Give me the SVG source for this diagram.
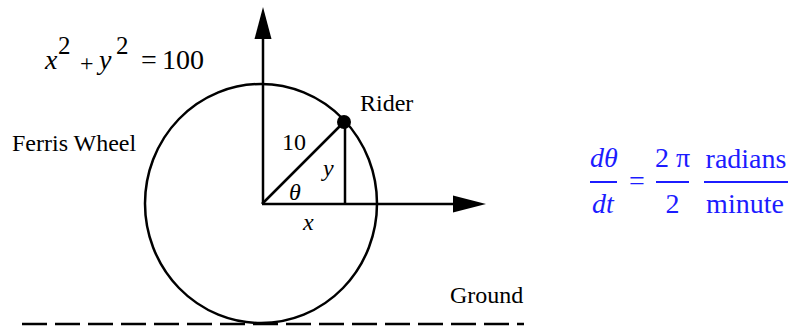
<svg xmlns="http://www.w3.org/2000/svg" width="791" height="328" viewBox="0 0 791 328">
<style>
  .t { font-family: "Liberation Serif", "Times New Roman", serif; font-size: 24px; fill: #000; }
  .i { font-style: italic; }
  .b { fill: #1c1cff; font-size: 28px; }
  .f { font-size: 28px; }
  .ln { stroke: #000; stroke-width: 2.5; fill: none; }
  .fr { stroke: #1c1cff; stroke-width: 2; }
</style>
<rect width="791" height="328" fill="#fff"/>
<g id="ground">
  <line x1="22" y1="324" x2="524" y2="324" stroke="#000" stroke-width="2.5" stroke-dasharray="25 8"/>
  <text class="t" x="450" y="303">Ground</text>
</g>
<g id="wheel">
  <ellipse cx="261" cy="203.5" rx="116" ry="119.5" class="ln"/>
  <text class="t" x="12" y="151">Ferris Wheel</text>
</g>
<g id="connectors">
  <line x1="263" y1="204" x2="263" y2="36" class="ln"/>
  <polygon points="263,7 254.5,39 271.5,39" fill="#000"/>
  <line x1="262" y1="204" x2="455" y2="204" class="ln"/>
  <polygon points="486,204 453,195.5 453,212.5" fill="#000"/>
  <line x1="262" y1="204" x2="344" y2="122" class="ln"/>
  <line x1="345" y1="122" x2="345" y2="204" class="ln"/>
</g>
<g id="rider">
  <circle cx="344" cy="122" r="7" fill="#000"/>
  <text class="t" x="360" y="111">Rider</text>
</g>
<g id="labels">
  <text class="t" x="282" y="150">10</text>
  <text class="t i" x="323" y="176">y</text>
  <text class="t i" x="289" y="200">θ</text>
  <text class="t i" x="303" y="230">x</text>
</g>
<g id="circle-equation">
  <text class="t i f" x="45" y="69">x</text>
  <text class="t" x="58" y="54" style="font-size:25px">2</text>
  <text class="t" x="80" y="71">+</text>
  <text class="t i f" x="99" y="69">y</text>
  <text class="t" x="116" y="54" style="font-size:25px">2</text>
  <text class="t f" x="141" y="69">=</text>
  <text class="t f" x="162" y="69">100</text>
</g>
<g id="rate-equation">
  <text class="t i b" x="604" y="167" text-anchor="middle">dθ</text>
  <line x1="590" y1="182" x2="617" y2="182" class="fr"/>
  <text class="t i b" x="603" y="213" text-anchor="middle">dt</text>
  <text class="t b" x="637" y="190" text-anchor="middle">=</text>
  <text class="t b" x="672.5" y="167" text-anchor="middle">2 π</text>
  <line x1="656" y1="182" x2="689" y2="182" class="fr"/>
  <text class="t b" x="672.5" y="213" text-anchor="middle">2</text>
  <text class="t b" x="746" y="168" text-anchor="middle">radians</text>
  <line x1="704" y1="182" x2="788" y2="182" class="fr"/>
  <text class="t b" x="745" y="213" text-anchor="middle">minute</text>
</g>
</svg>
